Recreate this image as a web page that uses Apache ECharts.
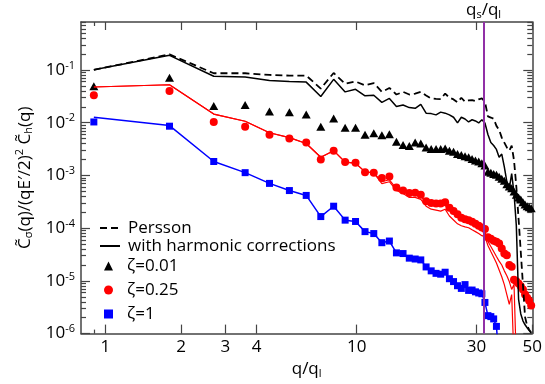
<!DOCTYPE html>
<html>
<head>
<meta charset="utf-8">
<script src="https://cdn.jsdelivr.net/npm/echarts@6/dist/echarts.min.js"></script>
<style>
  html, body { margin: 0; padding: 0; background: #fff; }
  #chart { width: 545px; height: 384px; }
</style>
</head>
<body>
<div id="chart"></div>
<script>
// wavevector ratio q/q_l of each mode
const qValues = [0.9, 1.8, 2.7, 3.6, 4.5, 5.4, 6.3, 7.2, 8.1, 9.0,
  9.9, 10.8, 11.7, 12.6, 13.5, 14.4, 15.3, 16.2, 17.1, 18.0,
  18.9, 19.8, 20.7, 21.6, 22.5, 23.4, 24.3, 25.2, 26.1, 27.0,
  27.9, 28.8, 29.7, 30.6, 31.5, 32.4, 33.3, 34.2, 35.1, 36.0,
  36.9, 37.8, 38.7, 39.6, 40.5, 41.4, 42.3, 43.2, 44.1, 45.0,
  45.9, 46.8, 47.7, 48.6, 49.5];

const persson = [0.101, 0.198, 0.0868, 0.0868, 0.0807, 0.0784, 0.0784, 0.0444, 0.0880, 0.0549,
  0.0606, 0.0511, 0.0566, 0.0385, 0.0457, 0.0343, 0.0385, 0.0343, 0.0358, 0.0385,
  0.0329, 0.0289, 0.0283, 0.0281, 0.0358, 0.0298, 0.0277, 0.0244, 0.0298, 0.0251,
  0.0265, 0.0269, 0.0257, 0.0277, 0.0289, 0.0251, 0.0132, 0.01255, 0.0119, 0.00872,
  0.00735, 0.00522, 0.00421, 0.00340, 0.00295, 0.00366, 0.00193, 0.000614, 0.000150, 3.53e-5,
  8.5e-6, 2.07e-6, 1.41e-6, 1.19e-6, 1.04e-6];

const harmonic = [0.101, 0.19, 0.0763, 0.0741, 0.0633, 0.0606, 0.0590, 0.0315, 0.0666, 0.0385,
  0.0430, 0.0324, 0.0333, 0.0244, 0.0289, 0.0203, 0.0217, 0.0194, 0.0188, 0.0224,
  0.0152, 0.0149, 0.0141, 0.0159, 0.0152, 0.0141, 0.0127, 0.00992, 0.0127, 0.01177,
  0.01035, 0.0114, 0.0108, 0.0099, 0.0114, 0.0099, 0.0060, 0.00421, 0.00370, 0.00312,
  0.00222, 0.00255, 0.00145, 0.00076, 0.00057, 0.00108, 0.00046, 0.000111, 4.47e-6, 2.36e-6,
  1.75e-6, 1.47e-6, 1.29e-6, 1.14e-6, 1.04e-6];

const zeta001 = [0.0493, 0.0710, 0.0208, 0.0217, 0.0164, 0.0159, 0.01426, 0.00836, 0.0120, 0.0080,
  0.0080, 0.00593, 0.00633, 0.00581, 0.00606, 0.00434, 0.00379, 0.00363, 0.00421, 0.00404,
  0.00340, 0.00319, 0.00317, 0.00317, 0.00326, 0.00295, 0.00283, 0.00255, 0.00245, 0.00231,
  0.00222, 0.00206, 0.00193, 0.00183, 0.00171, 0.00155, 0.00117, 0.00112, 0.00107, 0.00103,
  0.000942, 0.000865, 0.000794, 0.000678, 0.000614, 0.000571, 0.000496, 0.000430, 0.000383, 0.000348,
  0.000310, 0.000281, 0.000261, 0.000250, 0.000239];

const zeta025 = [0.0333, 0.0402, 0.01035, 0.00836, 0.00593, 0.0050, 0.00421, 0.00201, 0.00295, 0.00181,
  0.00174, 0.00115, 0.00113, 0.000891, 0.000954, 0.000588, 0.000517, 0.000465, 0.000470, 0.000430,
  0.000323, 0.000300, 0.000293, 0.000293, 0.000310, 0.000243, 0.000211, 0.000183, 0.000158, 0.000148,
  0.000141, 0.000132, 0.000121, 0.000111, 0.000103, 9.6e-5, 6.7e-5, 6.3e-5, 5.8e-5, 5.5e-5,
  5.1e-5, 4.1e-5, 3.3e-5, 3.07e-5, 2.0e-5, 1.86e-5, 1.05e-5, 9.8e-6, 8.9e-6, 7.9e-6,
  6.9e-6, 5.5e-6, 4.8e-6, 4.2e-6, 3.4e-6];

const zeta1 = [0.01035, 0.0086, 0.00184, 0.00113, 0.000707, 0.000517, 0.000418, 0.000166, 0.000261, 0.000142,
  0.000134, 8.6e-5, 7.9e-5, 5.3e-5, 5.7e-5, 3.4e-5, 3.3e-5, 2.7e-5, 2.6e-5, 2.5e-5,
  1.84e-5, 1.55e-5, 1.39e-5, 1.34e-5, 1.46e-5, 1.10e-5, 9.7e-6, 8.1e-6, 7.2e-6, 8.5e-6,
  6.6e-6, 6.7e-6, 6.2e-6, 5.9e-6, 5.7e-6, 3.9e-6, 2.19e-6, 2.10e-6, 1.90e-6, 1.37e-6];

// model curves for zeta = 0.25 (two variants) and zeta = 1
const redLineA = [0.0477, 0.0526, 0.0146, 0.01066, 0.00646, 0.00522, 0.00404, 0.00222, 0.00295, 0.00179,
  0.00171, 0.00117, 0.00112, 0.00076, 0.000828, 0.000564, 0.000496, 0.000436, 0.000436, 0.000400,
  0.000310, 0.000284, 0.000272, 0.000261, 0.000272, 0.000220, 0.000185, 0.000163, 0.000150, 0.000137,
  0.000132, 0.000121, 0.000111, 0.000102, 9.3e-5, 8.6e-5, 5.6e-5, 4.5e-5, 3.6e-5, 2.9e-5,
  2.37e-5, 2.0e-5, 1.55e-5, 1.25e-5, 9.7e-6, 6.9e-6, 8.5e-6, 3e-7];

const redLineB = [0.0477, 0.0526, 0.0146, 0.01066, 0.00646, 0.00522, 0.00404, 0.00222, 0.00295, 0.00179,
  0.00171, 0.00117, 0.00112, 0.000698, 0.00076, 0.000517, 0.000455, 0.000383, 0.000383, 0.000352,
  0.000261, 0.000229, 0.000220, 0.000211, 0.000229, 0.000170, 0.000143, 0.000121, 0.000111, 0.000106,
  0.000102, 9.3e-5, 8.6e-5, 7.9e-5, 7.2e-5, 6.9e-5, 4.7e-5, 3.6e-5, 2.8e-5, 2.18e-5,
  1.61e-5, 1.20e-5, 8.5e-6, 5.5e-6, 3.6e-6, 5.5e-6, 3e-7];

const blueLine = [0.0127, 0.00883, 0.00184, 0.00113, 0.000707, 0.000517, 0.000418, 0.000166, 0.000261, 0.000142,
  0.000134, 8.6e-5, 7.9e-5, 5.3e-5, 5.7e-5, 3.4e-5, 3.3e-5, 2.7e-5, 2.6e-5, 2.5e-5,
  1.84e-5, 1.55e-5, 1.39e-5, 1.34e-5, 1.46e-5, 1.10e-5, 9.7e-6, 8.1e-6, 7.2e-6, 8.5e-6,
  6.6e-6, 6.7e-6, 6.2e-6, 5.9e-6, 5.7e-6, 3.9e-6, 2.19e-6, 2.10e-6, 1.90e-6, 1.37e-6, 3e-7];

const qsRatio = 32;

// axis ranges and ticks
const xMin = 0.8, xMax = 50;
const yMin = 1e-6, yMax = 0.815;
const xMajorTicks = [1, 2, 3, 4, 10, 30, 50];
const xMinorTicks = [0.9];
const yMajorTicks = [1e-6, 1e-5, 1e-4, 1e-3, 1e-2, 1e-1];
const yMinorTicks = [];
yMajorTicks.forEach((d) => {
  for (let k = 2; k <= 9; k++) {
    if (k * d <= yMax) yMinorTicks.push(+(k * d).toPrecision(2));
  }
});

const FONT = '"Open Sans", "DejaVu Sans", sans-serif';
const AXIS_COLOR = '#444';

const pairs = (vals) => vals.map((v, i) => [qValues[i], v]);

function xAxisOf(position, ticks, len, extra) {
  return Object.assign({
    type: 'log', min: xMin, max: xMax, position: position,
    axisLine: { show: true, onZero: false, lineStyle: { color: AXIS_COLOR, width: 1.5 } },
    axisTick: { show: true, inside: true, length: len, customValues: ticks,
      lineStyle: { color: AXIS_COLOR, width: 1.2 } },
    axisLabel: { show: false },
    splitLine: { show: false },
    minorTick: { show: false }
  }, extra || {});
}

function yAxisOf(position, ticks, len, extra) {
  return Object.assign({
    type: 'log', min: yMin, max: yMax, position: position,
    axisLine: { show: true, onZero: false, lineStyle: { color: AXIS_COLOR, width: 1.5 } },
    axisTick: { show: true, inside: true, length: len, customValues: ticks,
      lineStyle: { color: AXIS_COLOR, width: 1.2 } },
    axisLabel: { show: false },
    splitLine: { show: false },
    minorTick: { show: false }
  }, extra || {});
}

const subRich = {
  t: { fontSize: 17, fontFamily: FONT, color: '#000', lineHeight: 20 },
  s: { fontSize: 11, fontFamily: FONT, color: '#000', lineHeight: 12, verticalAlign: 'bottom' },
  p: { fontSize: 11, fontFamily: FONT, color: '#000', lineHeight: 12, verticalAlign: 'top' }
};

const chart = echarts.init(document.getElementById('chart'));

chart.setOption({
  animation: false,
  backgroundColor: '#fff',
  grid: { left: 81, right: 10, top: 22, bottom: 44, containLabel: false },
  xAxis: [
    xAxisOf('bottom', xMajorTicks, 9, {
      axisLabel: {
        show: true, customValues: xMajorTicks, margin: 5,
        fontSize: 17, fontFamily: FONT, color: '#000',
        formatter: (v) => String(+(+v).toPrecision(3))
      },
      name: '{t|q/q}{s|l}', nameLocation: 'middle', nameGap: 21,
      nameTextStyle: { rich: subRich }
    }),
    xAxisOf('bottom', xMinorTicks, 4, { axisLine: { show: false } }),
    xAxisOf('top', xMajorTicks, 8),
    xAxisOf('top', xMinorTicks, 4, { axisLine: { show: false } })
  ],
  yAxis: [
    yAxisOf('left', yMajorTicks, 9, {
      axisLabel: {
        show: true, customValues: yMajorTicks, margin: 6,
        formatter: (v) => '{b|10}{e|' + Math.round(Math.log10(v)) + '}',
        rich: {
          b: { fontSize: 17, fontFamily: FONT, color: '#000', lineHeight: 20 },
          e: { fontSize: 11, fontFamily: FONT, color: '#000', lineHeight: 12, verticalAlign: 'top' }
        }
      },
      name: '{t|C\u0303}{s|σ}{t|(q)/(qE′/2)}{p|2}{t| C\u0303}{s|h}{t|(q)}',
      nameLocation: 'middle', nameGap: 42, nameRotate: 90,
      nameTextStyle: { rich: subRich }
    }),
    yAxisOf('left', yMinorTicks, 5, { axisLine: { show: false } }),
    yAxisOf('right', yMajorTicks, 9),
    yAxisOf('right', yMinorTicks, 5, { axisLine: { show: false } })
  ],
  legend: [
    {
      data: ['Persson', 'with harmonic corrections'],
      orient: 'vertical', left: 99, top: 219, padding: 0,
      itemWidth: 20, itemHeight: 10, itemGap: 0,
      itemStyle: { opacity: 0 },
      textStyle: { fontSize: 17, fontFamily: FONT, color: '#000', lineHeight: 18, padding: [0, 0, 0, 3] }
    },
    {
      data: ['ζ=0.01', 'ζ=0.25', 'ζ=1'],
      orient: 'vertical', left: 104, top: 257, padding: 0,
      itemWidth: 9, itemHeight: 9, itemGap: 6,
      textStyle: { fontSize: 17, fontFamily: FONT, color: '#000', lineHeight: 18, padding: [0, 0, 0, 9] }
    }
  ],
  series: [
    {
      name: 'Persson', type: 'line', symbol: 'none', data: pairs(persson),
      lineStyle: { color: '#000', width: 1.8, type: [7, 4] }, itemStyle: { color: '#000' },
      markLine: {
        silent: true, symbol: 'none',
        lineStyle: { color: '#9130a6', width: 2, type: 'solid' },
        label: {
          show: true, position: 'end', distance: 2,
          formatter: '{t|q}{s|s}{t|/q}{s|l}', rich: subRich
        },
        data: [{ xAxis: qsRatio }]
      }
    },
    {
      name: 'with harmonic corrections', type: 'line', symbol: 'none', data: pairs(harmonic),
      lineStyle: { color: '#000', width: 1.5 }, itemStyle: { color: '#000' }
    },
    {
      name: 'redA', type: 'line', symbol: 'none', data: pairs(redLineA),
      lineStyle: { color: '#ff0000', width: 1.2 }
    },
    {
      name: 'redB', type: 'line', symbol: 'none', data: pairs(redLineB),
      lineStyle: { color: '#ff0000', width: 1.2 }
    },
    {
      name: 'blueLine', type: 'line', symbol: 'none', data: pairs(blueLine),
      lineStyle: { color: '#0000ff', width: 1.5 }
    },
    {
      name: 'ζ=0.01', type: 'scatter', symbol: 'triangle', symbolSize: [9, 8],
      data: pairs(zeta001), itemStyle: { color: '#000', opacity: 1 }
    },
    {
      name: 'ζ=0.25', type: 'scatter', symbol: 'circle', symbolSize: 8,
      data: pairs(zeta025), itemStyle: { color: '#ff0000', opacity: 1 }
    },
    {
      name: 'ζ=1', type: 'scatter', symbol: 'rect', symbolSize: 7,
      data: pairs(zeta1), itemStyle: { color: '#0000ff', opacity: 1 }
    }
  ]
});
</script>
</body>
</html>
